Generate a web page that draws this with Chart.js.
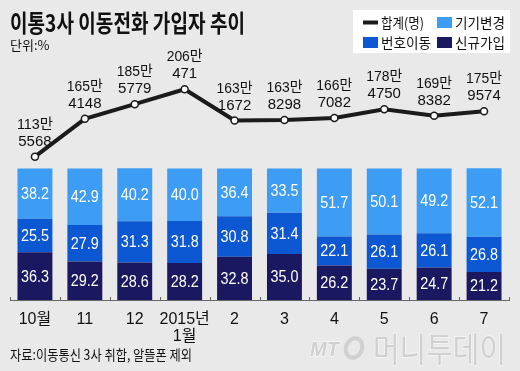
<!DOCTYPE html>
<html><head><meta charset="utf-8">
<script src="https://cdn.jsdelivr.net/npm/chart.js@4/dist/chart.umd.min.js"></script>
<style>html,body{margin:0;padding:0;background:#e9e9e9;overflow:hidden}</style>
</head><body>
<canvas id="c" width="520" height="371" style="width:520px;height:371px;display:block"></canvas>
<script>
const categories = [['10월'], ['11'], ['12'], ['2015년', '1월'], ['2'], ['3'], ['4'], ['5'], ['6'], ['7']];
const totalSubscribers = [1135568, 1654148, 1855779, 2060471, 1631672, 1638298, 1667082, 1784750, 1698382, 1759574];
const newJoin = [36.3, 29.2, 28.6, 28.2, 32.8, 35.0, 26.2, 23.7, 24.7, 21.2];
const numberPort = [25.5, 27.9, 31.3, 31.8, 30.8, 31.4, 22.1, 26.1, 26.1, 26.8];
const deviceChange = [38.2, 42.9, 40.2, 40.0, 36.4, 33.5, 51.7, 50.1, 49.2, 52.1];

const FONT = '"Liberation Sans", Arial, "Noto Sans CJK KR", sans-serif';
const NARROW = '"Liberation Sans Narrow", "Arial Narrow", "Liberation Sans", "Noto Sans CJK KR", sans-serif';
const CJK = '"Noto Sans CJK KR", "Liberation Sans", sans-serif';
const COL_TOTAL = '#1b1b1b', COL_DEV = '#3d9cf4', COL_NUM = '#0c57d2', COL_NEW = '#1b1862';

const decor = {
  id: 'decor',
  beforeDraw(chart) {
    const ctx = chart.ctx; ctx.save();
    ctx.fillStyle = '#e9e9e9'; ctx.fillRect(0, 0, chart.width, chart.height);
    ctx.restore();
  },
  afterDatasetsDraw(chart) {
    const ctx = chart.ctx; ctx.save();
    ctx.textAlign = 'center'; ctx.textBaseline = 'middle';
    chart.data.datasets.forEach((ds, di) => {
      const meta = chart.getDatasetMeta(di);
      if (ds.type === 'line') {
        ctx.fillStyle = '#111'; ctx.font = '15px ' + FONT;
        meta.data.forEach((pt, i) => {
          const v = ds.data[i];
          const man = Math.floor(v / 10000), rest = v % 10000;
          ctx.fillText(man + '만', pt.x, pt.y - 32, 36);
          ctx.fillText(String(rest), pt.x, pt.y - 15, 34);
        });
      } else {
        ctx.fillStyle = '#ffffff'; ctx.font = '16px ' + FONT;
        meta.data.forEach((bar, i) => {
          ctx.fillText(ds.data[i].toFixed(1), bar.x, (bar.y + bar.base) / 2 + 1, 28);
        });
      }
    });
    ctx.restore();
  },
  afterDraw(chart) {
    const ctx = chart.ctx; ctx.save();
    // upward ticks on x axis at category boundaries
    const xs = chart.scales.x;
    const n = chart.data.labels.length;
    const step = (xs.right - xs.left) / n;
    ctx.strokeStyle = '#666'; ctx.lineWidth = 1;
    for (let k = 0; k <= n; k++) {
      const x = Math.round(xs.left + k * step) + 0.5;
      ctx.beginPath(); ctx.moveTo(x, xs.top - 3); ctx.lineTo(x, xs.top); ctx.stroke();
    }
    // title
    ctx.textAlign = 'left'; ctx.textBaseline = 'middle';
    ctx.fillStyle = '#111';
    ctx.font = 'bold 24px ' + CJK;
    ctx.fillText('이통3사 이동전화 가입자 추이', 10, 23, 235);
    ctx.font = '13px ' + CJK;
    ctx.fillText('단위:%', 10, 45, 40);
    // legend
    ctx.fillStyle = '#ffffff'; ctx.fillRect(353, 10, 157, 43);
    const dsBy = l => chart.data.datasets.find(d => d.label === l);
    const items = [
      {ds: dsBy('합계(명)'), x: 363, y: 22.5, line: true},
      {ds: dsBy('기기변경'), x: 437, y: 22.5},
      {ds: dsBy('번호이동'), x: 363, y: 42.5},
      {ds: dsBy('신규가입'), x: 437, y: 42.5}
    ];
    ctx.font = '14px ' + CJK;
    items.forEach(it => {
      if (it.line) { ctx.fillStyle = it.ds.borderColor; ctx.fillRect(it.x, it.y - 2, 15, 4); }
      else { ctx.fillStyle = it.ds.backgroundColor; ctx.fillRect(it.x, it.y - 5.5, 15, 11); }
      ctx.fillStyle = '#111';
      ctx.fillText(it.ds.label, it.x + 18, it.y, it.line ? 43 : 50);
    });
    // source
    ctx.font = '14px ' + CJK; ctx.fillStyle = '#111';
    ctx.fillText('자료:이동통신 3사 취합, 알뜰폰 제외', 10, 355, 182);
    // watermark
    ctx.fillStyle = '#d0d0d0'; ctx.strokeStyle = '#f6f6f6'; ctx.lineWidth = 1.5;
    ctx.font = 'italic bold 20px ' + FONT;
    ctx.strokeText('MT', 310, 350, 33); ctx.fillText('MT', 310, 350, 33);
    ctx.beginPath(); ctx.ellipse(354, 348, 8, 10, 0.4, 0, Math.PI * 2);
    ctx.lineWidth = 4; ctx.strokeStyle = '#d0d0d0'; ctx.stroke();
    ctx.lineWidth = 1.5; ctx.strokeStyle = '#f6f6f6';
    ctx.font = '34px ' + CJK;
    ctx.strokeText('머니투데이', 373, 349, 133); ctx.fillText('머니투데이', 373, 349, 133);
    ctx.restore();
  }
};

new Chart(document.getElementById('c'), {
  data: {
    labels: categories,
    datasets: [
      {type: 'line', label: '합계(명)', data: totalSubscribers, yAxisID: 'y2', order: 0,
       borderColor: COL_TOTAL, borderWidth: 4, tension: 0,
       pointRadius: 3.5, pointBackgroundColor: '#ffffff', pointBorderColor: COL_TOTAL, pointBorderWidth: 1.5},
      {type: 'bar', label: '신규가입', data: newJoin, backgroundColor: COL_NEW, yAxisID: 'y', order: 1,
       barPercentage: 0.7, categoryPercentage: 1.0},
      {type: 'bar', label: '번호이동', data: numberPort, backgroundColor: COL_NUM, yAxisID: 'y', order: 1,
       barPercentage: 0.7, categoryPercentage: 1.0},
      {type: 'bar', label: '기기변경', data: deviceChange, backgroundColor: COL_DEV, yAxisID: 'y', order: 1,
       barPercentage: 0.7, categoryPercentage: 1.0}
    ]
  },
  options: {
    responsive: false, animation: false, devicePixelRatio: 1,
    layout: {padding: {left: 10, right: 11, top: 0, bottom: 0}},
    plugins: {legend: {display: false}, tooltip: {enabled: false}},
    scales: {
      x: {
        stacked: true, offset: true,
        grid: {display: false},
        border: {display: true, color: '#666', width: 1},
        ticks: {color: '#111', font: {family: NARROW, size: 16, lineHeight: 1.05}, padding: 3,
                maxRotation: 0, autoSkip: false},
        afterFit(s) { s.height = 71; }
      },
      y: {stacked: true, display: false, min: 0, max: 223.9},
      y2: {display: false, min: -829900, max: 3208800}
    }
  },
  plugins: [decor]
});
</script>
</body></html>
